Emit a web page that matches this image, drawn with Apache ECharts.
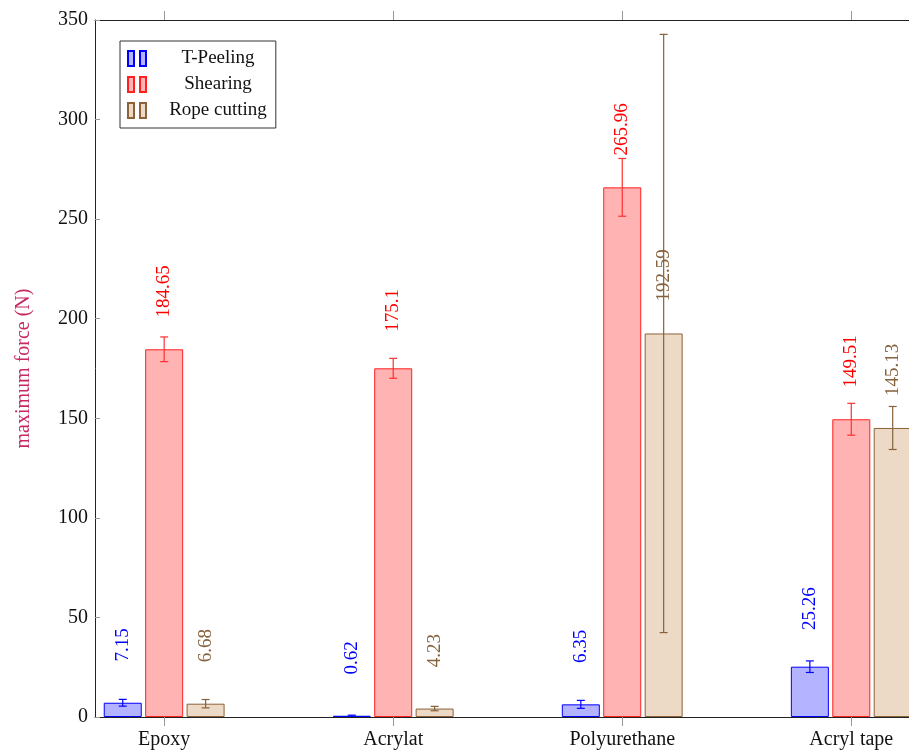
<!DOCTYPE html>
<html>
<head>
<meta charset="utf-8">
<script src="https://cdn.jsdelivr.net/npm/echarts@6/dist/echarts.min.js"></script>
<style>
  html, body { margin: 0; padding: 0; background: #fff; }
  #chart { width: 909px; height: 751px; }
</style>
</head>
<body>
<div id="chart"></div>
<script>
// data
const categories = ['Epoxy', 'Acrylat', 'Polyurethane', 'Acryl tape']
const tPeeling = [7.15, 0.62, 6.35, 25.26]
const tPeelingErr = [1.7, 0.3, 2.0, 2.9]
const shearing = [184.65, 175.1, 265.96, 149.51]
const shearingErr = [6.2, 5.0, 14.5, 8.0]
const ropeCutting = [6.68, 4.23, 192.59, 145.13]
const ropeCuttingErr = [2.1, 1.1, 150.2, 10.8]
const yTicks = [0, 50, 100, 150, 200, 250, 300, 350]

const FONT = 'Liberation Serif'
const BAR_W = 38
const GAP = 0.09
// the plot is cut at the right edge of the picture
const X_MIN = -0.302
const X_MAX = 3.252

const styles = [
  { name: 'T-Peeling', values: tPeeling, errs: tPeelingErr, fill: '#b3b3ff', stroke: '#0000ff', text: '#0000ff', err: '#0000ff' },
  { name: 'Shearing', values: shearing, errs: shearingErr, fill: '#ffb3b3', stroke: '#ff2020', text: '#ff0000', err: '#ff3030' },
  { name: 'Rope cutting', values: ropeCutting, errs: ropeCuttingErr, fill: '#ecd9c6', stroke: '#8c6239', text: '#86623c', err: '#86623c' },
]

const chart = echarts.init(document.getElementById('chart'))

const barSeries = styles.map((s) => ({
  name: s.name,
  type: 'bar',
  barWidth: BAR_W,
  barGap: (GAP * 100) + '%',
  data: s.values.map((v, i) => [i, v]),
  itemStyle: { color: s.fill, borderColor: s.stroke, borderWidth: 1 },
  label: {
    show: true,
    position: 'top',
    distance: 58,
    rotate: 90,
    align: 'center',
    verticalAlign: 'middle',
    color: s.text,
    fontFamily: FONT,
    fontSize: 19,
    formatter: (p) => String(p.value[1]),
  },
  emphasis: { disabled: true },
}))

const errSeries = styles.map((s, k) => ({
  type: 'custom',
  data: s.values.map((v, i) => [i, v - s.errs[i], v + s.errs[i]]),
  z: 5,
  renderItem: (params, api) => {
    const off = (k - 1) * BAR_W * (1 + GAP)
    const lo = api.coord([api.value(0), api.value(1)])
    const hi = api.coord([api.value(0), api.value(2)])
    const x = lo[0] + off
    const cap = 4
    const st = { stroke: s.err, lineWidth: 1.2 }
    return {
      type: 'group',
      children: [
        { type: 'line', shape: { x1: x, y1: lo[1], x2: x, y2: hi[1] }, style: st },
        { type: 'line', shape: { x1: x - cap, y1: lo[1], x2: x + cap, y2: lo[1] }, style: st },
        { type: 'line', shape: { x1: x - cap, y1: hi[1], x2: x + cap, y2: hi[1] }, style: st },
      ],
    }
  },
}))

const tickPos = categories.map((c, i) => i)

const options = {
  animation: false,
  textStyle: { fontFamily: FONT },
  grid: { left: 95, right: 0, top: 20, bottom: 34, containLabel: false },
  legend: {
    left: 120,
    top: 41,
    orient: 'vertical',
    data: styles.map((s) => s.name),
    icon: 'path://M0,0h6v15h-6z M12,0h6v15h-6z',
    itemWidth: 18,
    itemHeight: 15,
    itemGap: 7,
    padding: [8, 9, 8, 7],
    backgroundColor: '#fff',
    borderColor: '#333',
    borderWidth: 1,
    borderRadius: 0,
    formatter: (name) => '{c|' + name + '}',
    textStyle: {
      fontFamily: FONT,
      fontSize: 19,
      color: '#111',
      rich: { c: { width: 134, align: 'center', height: 15, fontFamily: FONT, fontSize: 19, color: '#111' } },
    },
  },
  xAxis: [
    {
      type: 'value',
      min: X_MIN,
      max: X_MAX,
      position: 'bottom',
      splitLine: { show: false },
      axisLine: { show: true, onZero: false, lineStyle: { color: '#222', width: 1 } },
      axisTick: { show: true, customValues: tickPos, length: 9, inside: false, lineStyle: { color: '#999' } },
      axisLabel: {
        customValues: tickPos,
        margin: 13,
        color: '#111',
        fontFamily: FONT,
        fontSize: 20,
        formatter: (v) => categories[Math.round(v)],
      },
    },
    {
      type: 'value',
      min: X_MIN,
      max: X_MAX,
      position: 'top',
      splitLine: { show: false },
      axisLine: { show: true, onZero: false, lineStyle: { color: '#222', width: 1 } },
      axisTick: { show: true, customValues: tickPos, length: 9, inside: false, lineStyle: { color: '#999' } },
      axisLabel: { show: false },
    },
  ],
  yAxis: {
    type: 'value',
    min: 0,
    max: 350,
    interval: 50,
    name: 'maximum force (N)',
    nameLocation: 'middle',
    nameRotate: 90,
    nameGap: 61,
    nameTextStyle: { color: '#c72a63', fontFamily: FONT, fontSize: 20 },
    splitLine: { show: false },
    axisLine: { show: true, onZero: false, lineStyle: { color: '#222', width: 1 } },
    axisTick: { show: true, inside: true, length: 5, lineStyle: { color: '#999' } },
    axisLabel: {
      margin: 7,
      color: '#111',
      fontFamily: FONT,
      fontSize: 20,
      customValues: yTicks,
    },
  },
  series: [...barSeries, ...errSeries],
}

chart.setOption(options, true)
</script>
</body>
</html>
